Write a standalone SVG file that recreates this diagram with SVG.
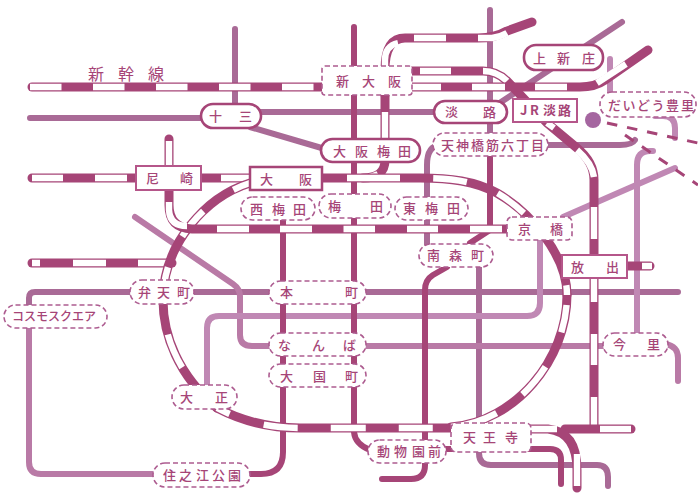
<svg xmlns="http://www.w3.org/2000/svg" width="698" height="493" viewBox="0 0 698 493">
<style>
text{font-family:"Noto Sans CJK JP","Noto Sans",sans-serif;font-size:13px;font-weight:500;fill:#a64577}
.l{fill:none;stroke-width:6;stroke-linecap:round;stroke-linejoin:round}
.d{stroke:#a64577}.m{stroke:#a96a96}.s{stroke:#b97aa6}.p{stroke:#c088b4}
.jb{fill:none;stroke:#a64577;stroke-width:9;stroke-linecap:round}
.jw{fill:none;stroke:#fff;stroke-width:6.4;stroke-linecap:butt}
.mono{fill:none;stroke:#a64577;stroke-width:3;stroke-dasharray:10.500 10}
.box{fill:#fff;stroke:#a64577;stroke-width:2.5}
.boxl{fill:#fff;stroke:#b5568a;stroke-width:2}
.dash{fill:#fff;stroke:#ad5c90;stroke-width:1.6;stroke-dasharray:5 3}
.sb{fill:#fff;stroke:#a64577;stroke-width:2.6}
</style>
<rect width="698" height="493" fill="#fff"/>
<g id="connectors">
<path class="l m" d="M235,29V105M30,118H205M255,112H440M250,127L325,149M622,22L498,104M490,10V135M427,245V165Q427,146 440,145M540,145H620Q632,145 635,140M29,328V298Q29,292 35,292H678M479,265V453Q479,465 491,465H597Q608,465 608,477V486"/>
<path class="l s" d="M135,217L233,284Q240,289 240,296V335Q240,346 252,346H605M29,328V462Q29,474 41,474H155M665,344Q678,346 678,358V381"/>
<path class="l p" d="M610,59V95M655,116H663Q675,116 675,128V138M207,385V328Q207,316 219,316H527Q540,316 540,303V236M563,217L675,168M637,332V165Q637,151 650,151H653"/>
<path class="l d" d="M354,27V432Q355,444 370,450M283,221V452Q283,474 261,474H248M490,157V230L470,243M447,267L433,275Q425,280 425,290V465Q425,479 411,479H382M415,449H550Q561,449 561,460V484"/>
<path class="mono" d="M607,123L698,143M625,135L698,185"/>
<circle cx="593" cy="120" r="8" fill="#a566a0"/>
<path class="jb" d="M32,87H330"/><path class="jw" stroke-dasharray="31.5 31.5" d="M30,87H314"/>
<path class="jb" d="M412,71H483Q497,71 507,81L547,123L577,148Q594,162 594,180V428"/>
<path class="jw" d="M420,71H451M483,71Q497,71 507,81M547,123L554,128M577,150Q592,163 594,177M594,207V239M594,278V302M594,334V365M594,397V426"/>
<path class="jb" d="M412,87H580Q595,87 605,80L648,50"/>
<path class="jw" d="M412,87H441M472,87H505M535,87H567"/><path class="jw" d="M597,83L626,64"/>
<path class="jb" d="M385,95V70Q385,38 405,38H478Q495,38 507,31L532,22"/>
<path class="jw" d="M385,66V60Q385,46 398,43"/><path class="jw" d="M414,38H446M478,38H492Q500,37 507,33"/>
<path class="jb" d="M32,178H136M201,178H250"/><path class="jw" d="M32,178H63M95,178H127M221,178H250"/>
<path class="jb" d="M32,263H172"/><path class="jw" d="M32,263H40M73,263H106M138,263H172"/>
<path class="jb" d="M250,183C205,197 163,245 163,300"/>
<path class="jw" stroke-dasharray="18 37 33 34 33 100" d="M250,183C205,197 163,245 163,300"/>
<path class="jb" d="M163,300C163,335 178,375 217,408"/>
<path class="jw" stroke-dasharray="0 35 36 200" d="M163,300C163,335 178,375 217,408"/>
<path class="jb" d="M217,408C240,420 265,428 300,428H450"/>
<path class="jw" stroke-dasharray="14 36 34 33 35 33 34 100" d="M217,408C240,420 265,428 300,428H450"/>
<path class="jb" d="M451,427C515,422 567,360 567,295"/>
<path class="jw" stroke-dasharray="48 32 36 38 28 100" d="M451,427C515,422 567,360 567,295"/>
<path class="jb" d="M385,95V160Q385,178 363,178"/>
<path class="jw" d="M385,112V139M378,174Q370,178 360,178"/>
<path class="jb" d="M322,178H420C450,178 475,181 497,193C530,212 567,255 567,295"/>
<path class="jw" stroke-dasharray="0 25 53 33 34 33 33 85 500" d="M322,178H420C450,178 475,181 497,193C530,212 567,255 567,295"/>
<path class="jb" d="M169,139V205Q169,228 192,229H508"/>
<path class="jw" d="M169,141V166M169,202V210Q170,226 187,226"/>
<path class="jw" d="M217,229H249M280,229H312M343.500,229H375M407,229H438M470,229H502"/>
<path class="jb" d="M627,266H650"/><path class="jw" d="M642,266H652"/>
<path class="jb" d="M565,429H631"/><path class="jw" d="M600,429H631"/>
<path class="jb" d="M531,429H548Q577,432 577,470V488"/><path class="jw" d="M531,429H557M577,454V486"/>
</g>
<g id="shinkansen-label"><text x="88 118 148" y="80" style="font-size:16px;font-weight:400">新幹線</text></g>
<g id="n-shinosaka"><rect class="dash" x="322" y="66" width="90" height="29" rx="3"/><text x="336 362 388" y="86">新大阪</text></g>
<g id="n-juso"><rect class="sb" x="201" y="104" width="60" height="24" rx="12"/><text x="209 239" y="121">十三</text></g>
<g id="n-awaji"><rect class="sb" x="434" y="101" width="73" height="22" rx="11"/><text x="445 483" y="117">淡路</text></g>
<g id="n-jrawaji"><rect class="boxl" x="513" y="99" width="64" height="23"/><text x="520 530 543 558" y="115" style="font-weight:700">JR淡路</text></g>
<g id="n-kamishinjo"><rect class="sb" x="524" y="45" width="79" height="25" rx="12"/><text x="533 557 582" y="63">上新庄</text></g>
<g id="n-toyosato"><rect class="dash" x="600" y="92" width="96" height="25" rx="12"/><text x="608 622.500 637 651.500 666 681" y="110">だいどう豊里</text></g>
<g id="n-umeda-osaka"><rect class="sb" x="321" y="139" width="99" height="23" rx="11.500"/><text x="333 355 377 398" y="156">大阪梅田</text></g>
<g id="n-tenroku"><rect class="dash" x="433" y="133" width="115" height="23" rx="11.500"/><text x="441 456 471 486 501 516 531" y="150">天神橋筋六丁目</text></g>
<g id="n-amagasaki"><rect class="boxl" x="136" y="166" width="65" height="24"/><text x="146 180" y="183">尼崎</text></g>
<g id="n-osaka"><rect class="box" x="250" y="167" width="72" height="23"/><text x="260 299" y="184">大阪</text></g>
<g id="n-nishiumeda"><rect class="dash" x="241" y="197" width="74" height="23" rx="11.500"/><text x="250 272 293" y="214">西梅田</text></g>
<g id="n-umeda"><rect class="dash" x="319" y="194" width="72" height="24" rx="12"/><text x="328 370" y="211">梅田</text></g>
<g id="n-higashiumeda"><rect class="dash" x="395" y="197" width="73" height="23" rx="11.500"/><text x="403 425 447" y="213">東梅田</text></g>
<g id="n-kyobashi"><rect class="dash" x="507" y="217" width="65" height="23" rx="5"/><text x="518 550" y="234">京橋</text></g>
<g id="n-minamimorimachi"><rect class="dash" x="419" y="244" width="74" height="23" rx="11.500"/><text x="427 449 471" y="260">南森町</text></g>
<g id="n-hanaten"><rect class="boxl" x="562" y="255" width="65" height="23"/><text x="571 606" y="272">放出</text></g>
<g id="n-bentencho"><rect class="dash" x="130" y="280" width="64" height="24" rx="12"/><text x="138 157 177" y="297">弁天町</text></g>
<g id="n-hommachi"><rect class="dash" x="269" y="281" width="97" height="23" rx="11.500"/><text x="280 345" y="297">本町</text></g>
<g id="n-namba"><rect class="dash" x="269" y="333" width="97" height="23" rx="11.500"/><text x="278 312 343" y="350">なんば</text></g>
<g id="n-daikokucho"><rect class="dash" x="269" y="364" width="97" height="23" rx="11.500"/><text x="280 313 345" y="381">大国町</text></g>
<g id="n-imazato"><rect class="dash" x="603" y="333" width="65" height="23" rx="11.500"/><text x="613 647" y="349">今里</text></g>
<g id="n-taisho"><rect class="dash" x="172" y="385" width="65" height="24" rx="12"/><text x="180 215" y="402">大正</text></g>
<g id="n-tennoji"><rect class="dash" x="451" y="423" width="80" height="29" rx="5"/><text x="463 483 505" y="442">天王寺</text></g>
<g id="n-dobutsuen"><rect class="dash" x="368" y="440" width="78" height="23" rx="11.500"/><text x="377 394 412 428" y="456">動物園前</text></g>
<g id="n-suminoe"><rect class="dash" x="153" y="463" width="97" height="24" rx="12"/><text x="163 179 196 212 228" y="480">住之江公園</text></g>
<g id="n-cosmo"><rect class="dash" x="4" y="305" width="103" height="23" rx="11.500"/><text x="12 24 36 48 60 72 84" y="321" style="font-size:12px">コスモスクエア</text></g>
</svg>
